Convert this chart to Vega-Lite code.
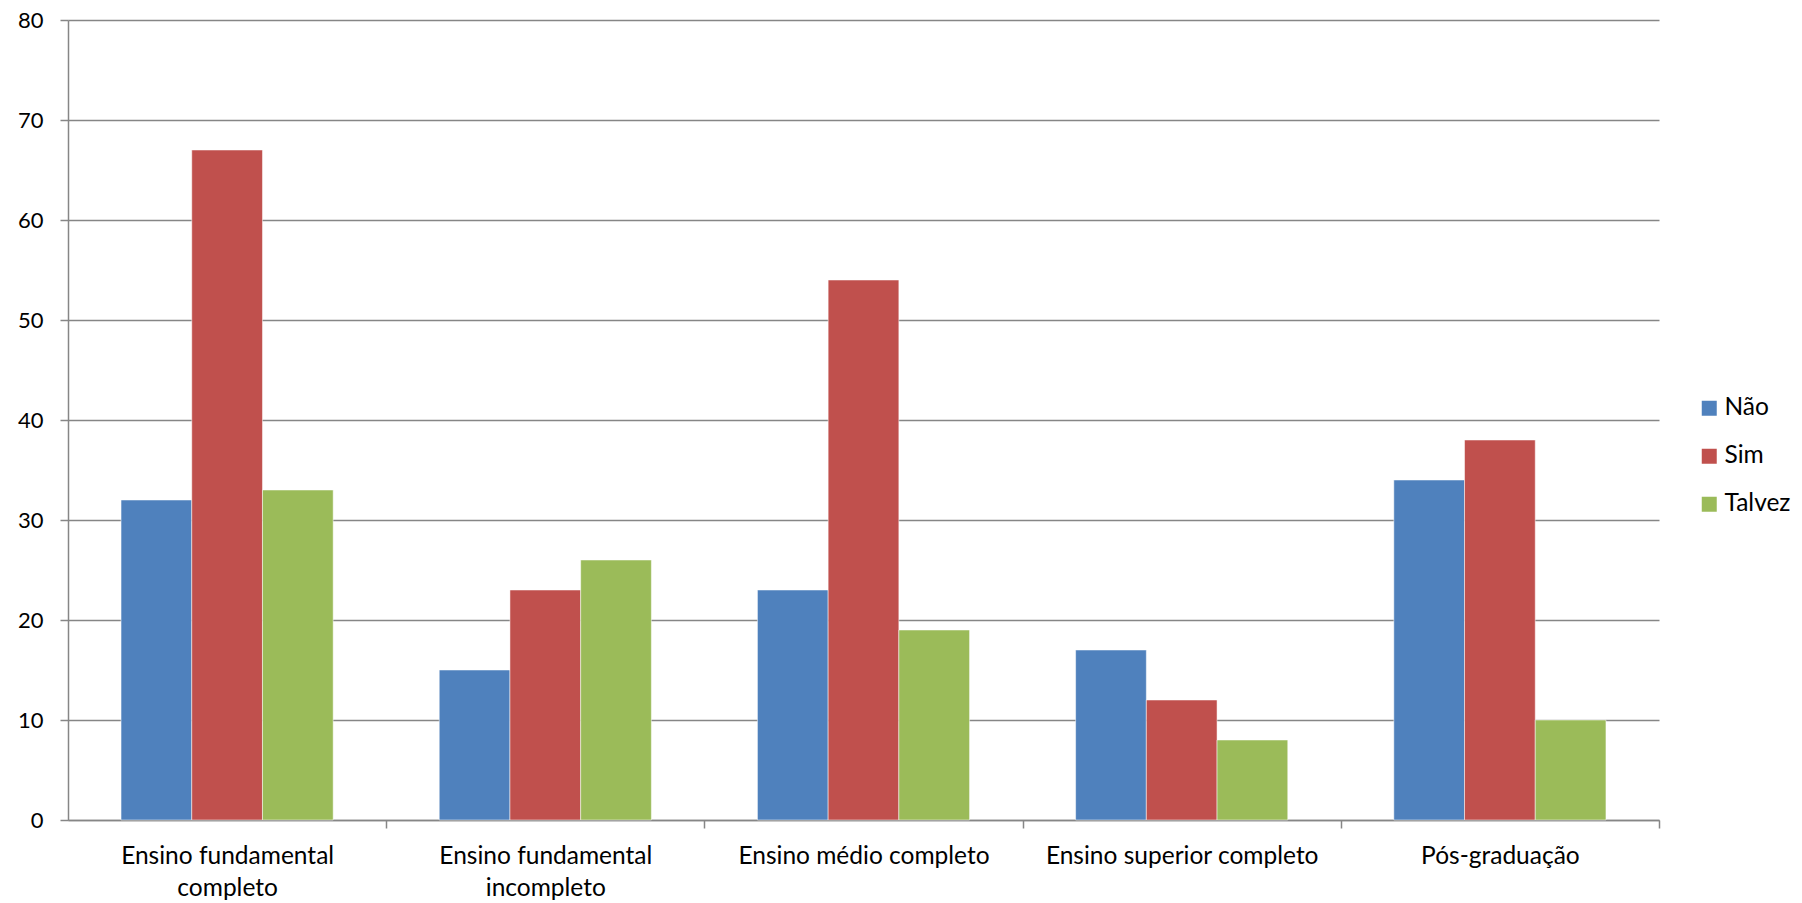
{
  "$schema": "https://vega.github.io/schema/vega-lite/v6.json",
  "autosize": "none",
  "width": 1591,
  "height": 800,
  "padding": {"left": 68, "top": 20, "right": 143, "bottom": 83},
  "background": "white",
  "config": {
    "view": {"stroke": null},
    "font": "Lato",
    "axis": {"labelFont": "Lato", "labelColor": "black", "domainColor": "#868686", "tickColor": "#868686", "gridColor": "#868686", "domainWidth": 1.5, "tickWidth": 1.5, "gridWidth": 1.5, "tickSize": 8, "labelLimit": 0}
  },
  "data": {"values": [
    {"cat": "Ensino fundamental completo", "resp": "Não", "v": 32},
    {"cat": "Ensino fundamental completo", "resp": "Sim", "v": 67},
    {"cat": "Ensino fundamental completo", "resp": "Talvez", "v": 33},
    {"cat": "Ensino fundamental incompleto", "resp": "Não", "v": 15},
    {"cat": "Ensino fundamental incompleto", "resp": "Sim", "v": 23},
    {"cat": "Ensino fundamental incompleto", "resp": "Talvez", "v": 26},
    {"cat": "Ensino médio completo", "resp": "Não", "v": 23},
    {"cat": "Ensino médio completo", "resp": "Sim", "v": 54},
    {"cat": "Ensino médio completo", "resp": "Talvez", "v": 19},
    {"cat": "Ensino superior completo", "resp": "Não", "v": 17},
    {"cat": "Ensino superior completo", "resp": "Sim", "v": 12},
    {"cat": "Ensino superior completo", "resp": "Talvez", "v": 8},
    {"cat": "Pós-graduação", "resp": "Não", "v": 34},
    {"cat": "Pós-graduação", "resp": "Sim", "v": 38},
    {"cat": "Pós-graduação", "resp": "Talvez", "v": 10}
  ]},
  "mark": {"type": "bar", "stroke": "white", "strokeWidth": 0.5},
  "encoding": {
    "x": {
      "field": "cat", "type": "nominal", "sort": null, "title": null,
      "scale": {"paddingInner": 0.3333, "paddingOuter": 0.1667},
      "axis": {"labelAngle": 0, "bandPosition": 1, "tickOffset": 53, "labelOffset": -53, "labelPadding": 16, "labelLineHeight": 32, "labelBaseline": "top", "labelFontSize": 24.5,
        "labelExpr": "datum.label == 'Ensino fundamental completo' ? ['Ensino fundamental', 'completo'] : datum.label == 'Ensino fundamental incompleto' ? ['Ensino fundamental', 'incompleto'] : datum.label"}
    },
    "xOffset": {"field": "resp", "type": "nominal", "scale": {"paddingInner": 0, "paddingOuter": 0}},
    "y": {
      "field": "v", "type": "quantitative", "title": null,
      "scale": {"domain": [0, 80], "nice": false},
      "axis": {"values": [0, 10, 20, 30, 40, 50, 60, 70, 80], "labelPadding": 17, "grid": true, "labelFontSize": 22}
    },
    "color": {
      "field": "resp", "type": "nominal", "title": null,
      "scale": {"domain": ["Não", "Sim", "Talvez"], "range": ["#4F81BD", "#C0504D", "#9BBB59"]},
      "legend": {"orient": "none", "legendX": 1629, "legendY": 376, "symbolType": "square", "symbolSize": 225, "symbolStrokeWidth": 0, "labelFontSize": 24.5, "labelFont": "Lato", "labelColor": "black", "rowPadding": 23, "labelOffset": 3}
    }
  }
}
